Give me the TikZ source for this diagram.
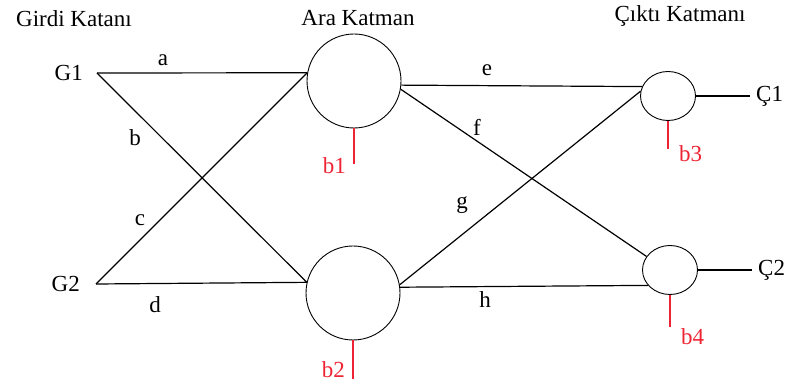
\documentclass[tikz,border=0pt]{standalone}
\usepackage{fontspec}
\setmainfont{Liberation Serif}
\usetikzlibrary{positioning,calc,shapes.geometric}
\definecolor{biasred}{RGB}{238,36,52}

\begin{document}
\begin{tikzpicture}[x=1pt, y=-1pt,
    lbl/.style={font=\fontsize{23}{27}\selectfont, inner sep=1pt},
    bigcell/.style={draw, circle, minimum size=94pt, inner sep=0pt, line width=0.9pt},
    smallcell/.style={draw, ellipse, minimum width=55pt, minimum height=49pt, inner sep=0pt, line width=0.9pt},
    wire/.style={line width=1.2pt},
    bias/.style={draw=biasred, line width=1.2pt},
    biaslbl/.style={lbl, text=biasred}
]
\useasboundingbox (0,0) rectangle (793,387);
% layer titles
\node[lbl] (T1) at (74,19) {Girdi Katanı};
\node[lbl] (T2) at (358,18) {Ara Katman};
\node[lbl] (T3) at (680,16) {Çıktı Katmanı};
% inputs
\coordinate (in1) at (97,73);
\coordinate (in2) at (96,284);
\node[lbl, left=13pt of in1] (G1) {G1};
\node[lbl, left=15pt of in2] (G2) {G2};
% cells
\node[bigcell] (h1) at (354,81) {};
\node[bigcell] (h2) at (353,293) {};
\node[smallcell] (o1) at (668,96) {};
\node[smallcell] (o2) at (670,270) {};
% outputs
\node[lbl, anchor=west] (C1) at (755,96) {Ç1};
\node[lbl, anchor=west] (C2) at (757,270) {Ç2};
% connections
\draw[wire] (in1) -- (h1.170);
\draw[wire] (in1) -- (h2.167);
\draw[wire] (in2) -- (h1.170);
\draw[wire] (in2) -- (h2.167);
\draw[wire] (h1.-5) -- (o1.160);
\draw[wire] (h1.-10) -- (o2.150);
\draw[wire] (h2.10) -- (o1.170);
\draw[wire] (h2.7) -- (o2.215);
\draw[wire, shorten >=5pt] (o1.east) -- (o1.east -| C1.west);
\draw[wire, shorten >=5pt] (o2.east) -- (o2.east -| C2.west);
% weights
\node[lbl] (wa) at (163,60) {a};
\node[lbl] (wb) at (135,138) {b};
\node[lbl] (wc) at (140,220) {c};
\node[lbl] (wd) at (155,305) {d};
\node[lbl] (we) at (487,70) {e};
\node[lbl] (wf) at (477,127) {f};
\node[lbl] (wg) at (462,205) {g};
\node[lbl] (wh) at (485,300) {h};
% biases
\draw[bias] (h1.south) -- ++(0,36) coordinate (e1);
\draw[bias] (h2.south) -- ++(0,39) coordinate (e2);
\draw[bias] (o1.south) -- ++(0,28) coordinate (e3);
\draw[bias] (o2.south) -- ++(0,32) coordinate (e4);
\node[biaslbl, anchor=east] (b1) at ($(e1)+(-7,1)$) {b1};
\node[biaslbl, anchor=east] (b2) at ($(e2)+(-7,-10)$) {b2};
\node[biaslbl, anchor=west] (b3) at ($(e3)+(10,5)$) {b3};
\node[biaslbl, anchor=west] (b4) at ($(e4)+(10,10)$) {b4};
\end{tikzpicture}
\end{document}
